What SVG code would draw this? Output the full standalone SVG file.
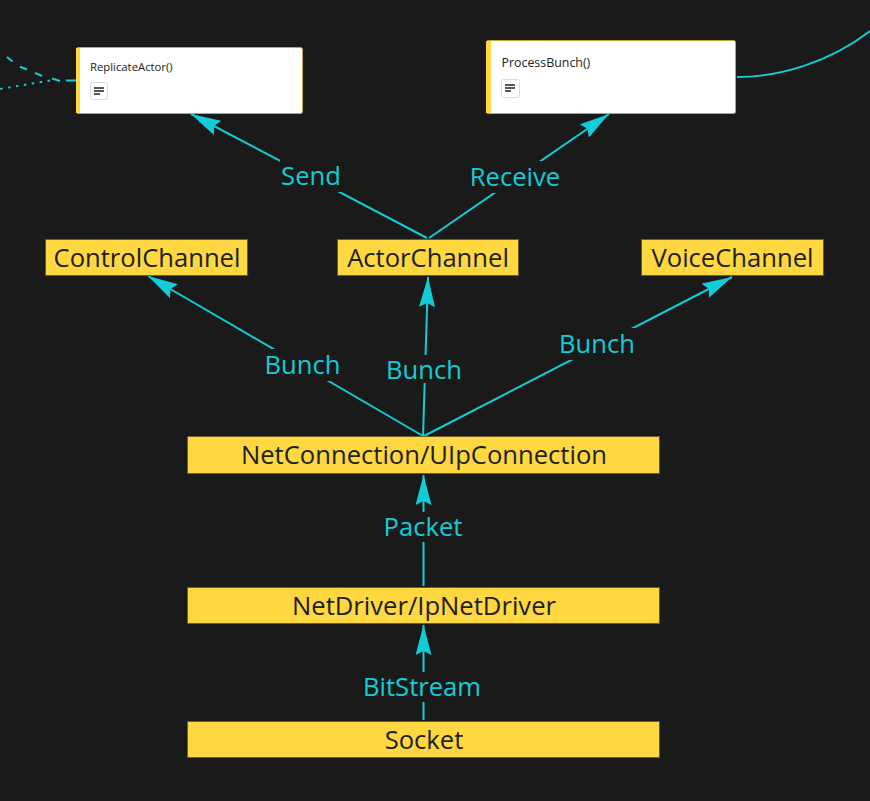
<svg xmlns="http://www.w3.org/2000/svg" width="870" height="801" viewBox="0 0 870 801">
<style>
text{font-family:"Open Sans","Noto Sans",sans-serif}
.n{fill:#ffd740;stroke:#6b5c2a;stroke-width:1}
.t{font-size:25.6px;fill:#212121;text-anchor:middle}
.c{fill:#fff;stroke:#c9a63a;stroke-width:1}
.s{fill:#212121}
.bar{fill:#ffd740}
.l{font-size:25.600px;fill:#12ccd6;text-anchor:middle}
.e{fill:none;stroke:#12ccd6;stroke-width:2}
.h{fill:#12ccd6;stroke:none}
.ib{fill:#fff;stroke:#ddd;stroke-width:1}
.il{stroke:#212121;stroke-width:1.5}
</style>
<defs><marker id="a" viewBox="0 0 30 16" refX="30" refY="8" markerWidth="30" markerHeight="16" markerUnits="userSpaceOnUse" orient="auto"><path class="h" d="M30 8L0 0L4 8L0 16Z"/></marker></defs>
<rect width="870" height="801" fill="#1a1a1a"/>
<g id="connectors">
<path class="e" d="M427 238L191 114" marker-end="url(#a)"/>
<path class="e" d="M429 238L609 114" marker-end="url(#a)"/>
<path class="e" d="M423 436L148 276" marker-end="url(#a)"/>
<path class="e" d="M423 436L428 277" marker-end="url(#a)"/>
<path class="e" d="M424 436L732 277" marker-end="url(#a)"/>
<path class="e" d="M423.500 586L423.500 475" marker-end="url(#a)"/>
<path class="e" d="M423.500 720L423.500 625" marker-end="url(#a)"/>
<path class="e" d="M737 77C780 77 830 62 870 31"/>
<path class="e" d="M76 80.500L66 80.500M60 81L52 78.500M42 76L35 72.800M27 69.500L20 66.700M12.500 61.500L7 57"/>
<path class="e" d="M50 80.500L0 89" style="stroke-dasharray:2.500 5.500"/>
</g>
<g id="replicate-actor"><rect class="c" x="76.500" y="47.500" width="226" height="66" rx="2"/><rect class="bar" x="76" y="48" width="4" height="65"/><text class="s" x="90" y="71" font-size="11.3">ReplicateActor()</text><rect class="ib" x="90.500" y="82.500" width="17" height="17" rx="2"/><path class="il" d="M94 88H104M94 91H104M94 94H100"/></g>
<g id="process-bunch"><rect class="c" x="486.500" y="40.500" width="249" height="73" rx="2"/><rect class="bar" x="486" y="41" width="5" height="72"/><text class="s" x="501.500" y="67" font-size="12.4">ProcessBunch()</text><rect class="ib" x="501.500" y="79.500" width="18" height="18" rx="2"/><path class="il" d="M505 85H515M505 88H515M505 91H511"/></g>
<g id="control-channel"><rect class="n" x="45.500" y="239.500" width="202" height="36"/><text class="t" x="147" y="267">ControlChannel</text></g>
<g id="actor-channel"><rect class="n" x="337.500" y="239.500" width="181" height="36"/><text class="t" x="428" y="267">ActorChannel</text></g>
<g id="voice-channel"><rect class="n" x="641.500" y="239.500" width="182" height="36"/><text class="t" x="732.500" y="267">VoiceChannel</text></g>
<g id="net-connection"><rect class="n" x="187.500" y="436.500" width="472" height="37"/><text class="t" x="424" y="464">NetConnection/UIpConnection</text></g>
<g id="net-driver"><rect class="n" x="187.500" y="587.500" width="472" height="36"/><text class="t" x="424" y="615">NetDriver/IpNetDriver</text></g>
<g id="socket"><rect class="n" x="187.500" y="721.500" width="472" height="36"/><text class="t" x="424" y="749">Socket</text></g>
<g id="labels">
<rect x="280" y="160" width="63" height="32" fill="#1a1a1a"/><text class="l" x="311" y="185">Send</text>
<rect x="469" y="161" width="92" height="32" fill="#1a1a1a"/><text class="l" x="515" y="186">Receive</text>
<rect x="263" y="349" width="78" height="32" fill="#1a1a1a"/><text class="l" x="302.500" y="374">Bunch</text>
<rect x="385" y="355" width="78" height="28" fill="#1a1a1a"/><text class="l" x="424" y="379">Bunch</text>
<rect x="558" y="328" width="78" height="32" fill="#1a1a1a"/><text class="l" x="597" y="353">Bunch</text>
<rect x="383" y="512" width="81" height="30" fill="#1a1a1a"/><text class="l" x="423" y="536">Packet</text>
<rect x="363" y="672" width="120" height="30" fill="#1a1a1a"/><text class="l" x="422" y="696">BitStream</text>
</g>
</svg>
